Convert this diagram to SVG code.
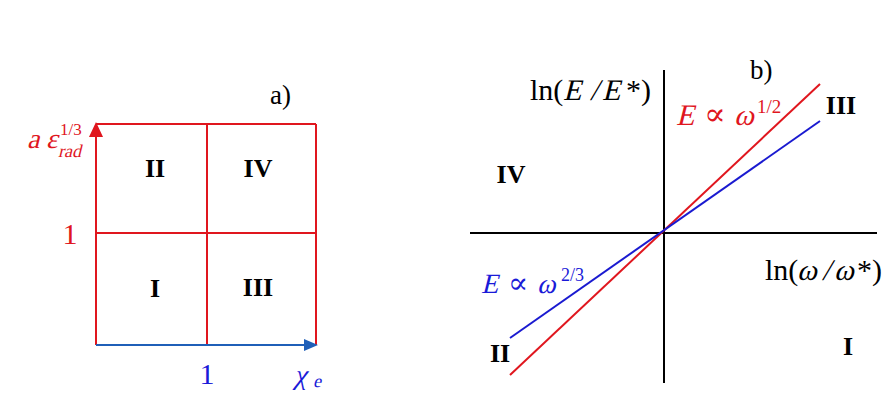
<svg xmlns="http://www.w3.org/2000/svg" width="893" height="413" viewBox="0 0 893 413">
<style>
.t{font-family:"Liberation Serif","Times New Roman",serif}
.rn{font-family:"Liberation Serif",serif;font-weight:bold;font-size:26px;fill:#000;text-anchor:middle}
.sym{font-family:"DejaVu Serif","Liberation Serif",serif}
.red{fill:#e0161e}
.blue{fill:#1a1ad8}
.rl{stroke:#e0161e;stroke-width:2;fill:none}
.bl{stroke:#1a1ad0;stroke-width:2;fill:none}
.kl{stroke:#000;stroke-width:2;fill:none}
</style>
<rect width="893" height="413" fill="#fff"/>
<g id="connectors">
<line class="rl" x1="96" y1="345" x2="96" y2="130"/>
<path d="M89,137 L96,122 L103,137 Z" fill="#e0161e"/>
<line class="rl" x1="96" y1="124" x2="316" y2="124"/>
<line class="rl" x1="316" y1="124" x2="316" y2="345"/>
<line class="rl" x1="207" y1="124" x2="207" y2="345"/>
<line class="rl" x1="96" y1="233" x2="316" y2="233"/>
<line x1="96" y1="345" x2="306" y2="345" stroke="#1f5fb8" stroke-width="2"/>
<path d="M304,339 L318,345 L304,351 Z" fill="#1f5fb8"/>
<line class="kl" x1="664" y1="70" x2="664" y2="383"/>
<line class="kl" x1="470" y1="233" x2="877" y2="233"/>
<line class="rl" x1="510" y1="375" x2="820" y2="84"/>
<line class="bl" x1="510" y1="338" x2="820" y2="121"/>
</g>
<g id="panel-a-labels" class="t">
<text x="270" y="104" font-size="27" fill="#000">a)</text>
<text class="t red" font-size="28" transform="translate(27,148) skewX(-14)">a</text>
<text class="t red" font-size="28" transform="translate(46,148) skewX(-14)">ε</text>
<text class="t red" font-size="18" transform="translate(58,157) skewX(-14)">rad</text>
<text x="60" y="135" font-size="17" class="t red">1/3</text>
<text x="70" y="244" font-size="30" class="t red" text-anchor="middle">1</text>
<text x="207" y="384" font-size="30" class="t blue" text-anchor="middle">1</text>
<text class="t blue" font-size="28" transform="translate(294,384) skewX(-14)">χ</text>
<text class="t blue" font-size="18" transform="translate(313,387) skewX(-14)">e</text>
</g>
<g id="region-a-II"><text class="rn" x="155" y="177">II</text></g>
<g id="region-a-IV"><text class="rn" x="258" y="177">IV</text></g>
<g id="region-a-I"><text class="rn" x="155" y="297">I</text></g>
<g id="region-a-III"><text class="rn" x="258" y="296">III</text></g>
<g id="panel-b-labels" class="t">
<text x="750" y="79" font-size="27" fill="#000">b)</text>
<text x="530" y="100" font-size="30" fill="#000">ln(</text>
<text font-size="30" fill="#000" transform="translate(563,100) skewX(-14)">E</text>
<text font-size="30" fill="#000" transform="translate(590,100) skewX(-14)">/</text>
<text font-size="30" fill="#000" transform="translate(602,100) skewX(-14)">E</text>
<text x="626" y="100" font-size="30" fill="#000">*)</text>
<text x="765" y="280" font-size="30" fill="#000">ln(</text>
<text font-size="30" fill="#000" transform="translate(797,280) skewX(-14)">ω</text>
<text font-size="30" fill="#000" transform="translate(822,280) skewX(-14)">/</text>
<text font-size="30" fill="#000" transform="translate(834,280) skewX(-14)">ω</text>
<text x="857" y="280" font-size="30" fill="#000">*)</text>
<text class="red" font-size="30" transform="translate(676,125) skewX(-14)">E</text>
<text class="sym red" x="704" y="125" font-size="32">∝</text>
<text class="red" font-size="30" transform="translate(734,125) skewX(-14)">ω</text>
<text x="757" y="113" font-size="19" class="red">1/2</text>
<text class="blue" font-size="28" transform="translate(481,293) skewX(-14)">E</text>
<text class="sym blue" x="508" y="293" font-size="30">∝</text>
<text class="blue" font-size="28" transform="translate(537,293) skewX(-14)">ω</text>
<text x="561" y="281" font-size="18" class="blue">2/3</text>
</g>
<g id="region-b-III"><text class="rn" x="841" y="114">III</text></g>
<g id="region-b-IV"><text class="rn" x="511" y="183">IV</text></g>
<g id="region-b-II"><text class="rn" x="500" y="362">II</text></g>
<g id="region-b-I"><text class="rn" x="848" y="355">I</text></g>
</svg>
